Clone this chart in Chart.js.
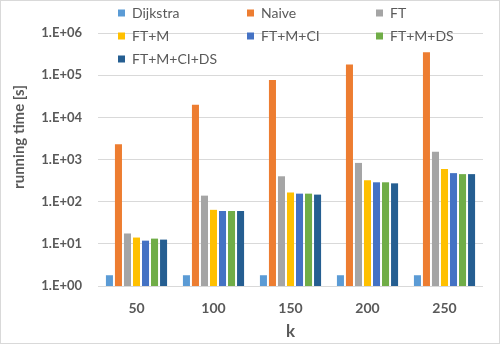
<!DOCTYPE html>
<html>
<head>
<meta charset="utf-8">
<script src="https://cdn.jsdelivr.net/npm/chart.js@4/dist/chart.umd.min.js"></script>
<style>
  body { margin: 0; background: #fff; }
  canvas { display: block; }
</style>
</head>
<body>
<canvas id="chart" width="500" height="344"></canvas>
<script>
const kValues = ['50', '100', '150', '200', '250'];
const dijkstra = [1.8, 1.8, 1.8, 1.8, 1.8];
const naive = [2300, 20000, 77000, 178000, 350000];
const ft = [17.6, 139, 400, 830, 1530];
const ftM = [14.1, 64, 164, 320, 595];
const ftMCi = [11.9, 60, 155, 288, 475];
const ftMDs = [13.3, 60, 155, 288, 450];
const ftMCiDs = [12.6, 60, 147, 272, 450];
const yTicks = [1, 10, 100, 1000, 10000, 100000, 1000000];

const seriesNames = ['Dijkstra', 'Naive', 'FT', 'FT+M', 'FT+M+CI', 'FT+M+DS', 'FT+M+CI+DS'];
const seriesData = [dijkstra, naive, ft, ftM, ftMCi, ftMDs, ftMCiDs];
const seriesColors = ['#5B9BD5', '#ED7D31', '#A5A5A5', '#FFC000', '#4472C4', '#70AD47', '#255E91'];

const textColor = '#595959';
const fontFamily = 'Lato, "Liberation Sans", sans-serif';

// white background + thin frame, legend and y title drawn by hand (Excel style)
const excelLook = {
  id: 'excelLook',
  beforeDraw(chart) {
    const ctx = chart.ctx;
    ctx.save();
    ctx.fillStyle = '#fff';
    ctx.fillRect(0, 0, chart.width, chart.height);
    ctx.strokeStyle = '#d9d9d9';
    ctx.lineWidth = 1;
    ctx.strokeRect(0.5, 0.5, chart.width - 1, chart.height - 1);
    ctx.restore();
  },
  afterDraw(chart) {
    const ctx = chart.ctx;
    ctx.save();
    // legend, 3 columns
    ctx.font = '14px ' + fontFamily;
    ctx.textBaseline = 'middle';
    chart.data.datasets.forEach((ds, i) => {
      const col = i % 3, row = Math.floor(i / 3);
      const x = 118 + col * 129;
      const y = 13 + row * 23;
      ctx.fillStyle = ds.backgroundColor;
      ctx.fillRect(x, y - 3.5, 7, 7);
      ctx.fillStyle = textColor;
      ctx.fillText(ds.label, x + 14, y + 0.5);
    });
    // y axis title
    ctx.translate(19, 137);
    ctx.rotate(-Math.PI / 2);
    ctx.textAlign = 'center';
    ctx.font = 'bold 15px ' + fontFamily;
    ctx.fillText('running time [s]', 0, 0);
    ctx.restore();
  }
};

const ctx = document.getElementById('chart').getContext('2d');
new Chart(ctx, {
  type: 'bar',
  data: {
    labels: kValues,
    datasets: seriesNames.map((name, i) => ({
      label: name,
      data: seriesData[i],
      backgroundColor: seriesColors[i],
      categoryPercentage: 0.82,
      barPercentage: 0.78
    }))
  },
  options: {
    responsive: false,
    animation: false,
    layout: { padding: { top: 33, right: 17, bottom: 2, left: 0 } },
    plugins: {
      legend: { display: false },
      tooltip: { enabled: false }
    },
    scales: {
      x: {
        afterFit: scale => { scale.height = 56; },
        grid: { display: false },
        border: { display: false },
        ticks: {
          color: textColor,
          font: { family: fontFamily, size: 14, weight: 'bold' },
          padding: 6
        },
        title: {
          display: true,
          text: 'k',
          color: textColor,
          font: { family: fontFamily, size: 17, weight: 'bold' },
          padding: { top: 4, bottom: 0 }
        }
      },
      y: {
        type: 'logarithmic',
        min: 1,
        max: 1000000,
        afterBuildTicks: scale => {
          scale.ticks = yTicks.map(v => ({ value: v }));
        },
        afterFit: scale => { scale.width = 98; },
        grid: { color: '#d9d9d9', lineWidth: 1, drawTicks: false },
        border: { display: false },
        ticks: {
          color: textColor,
          padding: 16,
          font: { family: fontFamily, size: 13, weight: 'bold' },
          callback: v => '1.E+' + String(Math.round(Math.log10(v))).padStart(2, '0')
        }
      }
    }
  },
  plugins: [excelLook]
});
</script>
</body>
</html>
